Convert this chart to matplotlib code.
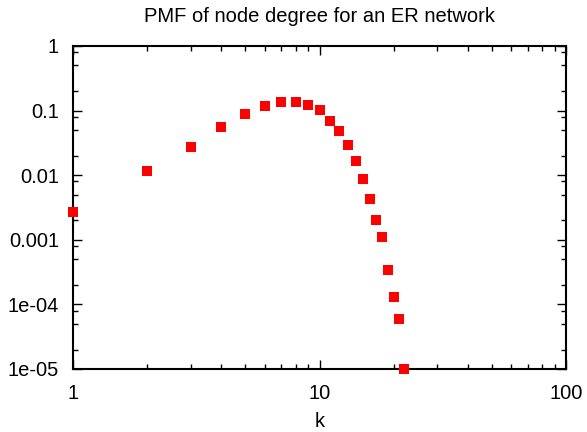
import matplotlib
matplotlib.use("Agg")
import matplotlib.pyplot as plt
from matplotlib.ticker import FixedLocator, FixedFormatter, NullFormatter

plt.rcParams['font.family'] = ['Liberation Sans', 'DejaVu Sans']

k = [1, 2, 3, 4, 5, 6, 7, 8, 9, 10, 11, 12, 13, 14, 15, 16, 17, 18, 19, 20, 21, 22]
pmf = [0.0027, 0.0116, 0.0273, 0.0557, 0.0885, 0.118, 0.136, 0.136, 0.122, 0.102,
       0.069, 0.048, 0.0294, 0.0166, 0.0087, 0.0043, 0.0020, 0.0011, 0.00034,
       0.00013, 0.000059, 0.00001]

yticks = [1e-5, 1e-4, 1e-3, 1e-2, 1e-1, 1]
ylabels = ['1e-05', '1e-04', '0.001', '0.01', '0.1', '1']
xticks = [1, 10, 100]
xlabels = ['1', '10', '100']

FS = 14.5

fig = plt.figure(figsize=(5.87, 4.32), dpi=100)
ax = fig.add_axes([73/587, 1-369/432, (566-73)/587, (369-46)/432])

ax.plot(k, pmf, linestyle='none', marker='s', markersize=7.2,
        color='#ff0000', markeredgewidth=0, clip_on=False, zorder=3)

ax.set_xscale('log')
ax.set_yscale('log')
ax.set_xlim(1, 100)
ax.set_ylim(1e-5, 1)

ax.xaxis.set_major_locator(FixedLocator(xticks))
ax.xaxis.set_major_formatter(FixedFormatter(xlabels))
xminor = [m * 10**d for d in range(0, 2) for m in range(2, 10)]
ax.xaxis.set_minor_locator(FixedLocator(xminor))
ax.xaxis.set_minor_formatter(NullFormatter())

ax.yaxis.set_major_locator(FixedLocator(yticks))
ax.yaxis.set_major_formatter(FixedFormatter(ylabels))
yminor = [m * 10.0**d for d in range(-5, 0) for m in (2, 5, 8)]
ax.yaxis.set_minor_locator(FixedLocator(yminor))
ax.yaxis.set_minor_formatter(NullFormatter())

ax.tick_params(which='both', direction='in', top=True, right=True,
               labelsize=FS, colors='black', width=1.0)
ax.tick_params(which='major', length=6.5)
ax.tick_params(which='minor', length=3.5)
ax.tick_params(axis='y', which='major', pad=10)
ax.tick_params(axis='x', which='major', pad=11)
for s in ax.spines.values():
    s.set_linewidth(1.5)

ax.set_xlabel('k', fontsize=FS, labelpad=6)
ax.set_title('PMF of node degree for an ER network', fontsize=FS, pad=17)

fig.savefig('out.png', dpi=100)
